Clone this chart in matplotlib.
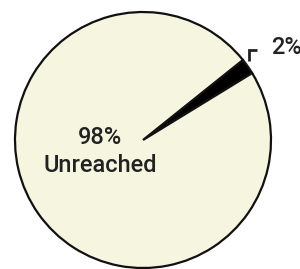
import matplotlib.pyplot as plt

# data
labels = ["Reached", "Unreached"]
shares = [2, 98]
colors = ["#000000", "#f5f5e0"]

plt.rcParams['font.family'] = ['Roboto', 'DejaVu Sans']

fig = plt.figure(figsize=(3.0, 2.69), dpi=100)
ax = fig.add_axes([0, 0, 1, 1])

cx, cy, r = 143, 140, 128
# y axis is inverted below, so clockwise in data reads counterclockwise on screen
wedges, _ = ax.pie(shares, colors=colors, startangle=-31.5, counterclock=False,
                   center=(cx, cy), radius=r, frame=True,
                   wedgeprops=dict(edgecolor='#111111', linewidth=1.6))
ax.set_xlim(0, 300)
ax.set_ylim(269, 0)
ax.set_aspect('equal')
ax.axis('off')

txt = dict(fontsize=17, color='#222222', fontweight='medium')
ax.text(100, 138, "{}%".format(shares[1]), ha='center', va='center', **txt)
ax.text(100, 165, labels[1], ha='center', va='center', **txt)

# small leader corner for the tiny slice
ax.plot([249.2, 249.2, 257], [61, 49.6, 49.6], color='#222222', lw=2.0,
        solid_capstyle='butt', solid_joinstyle='miter')
ax.text(271, 47, "{}%".format(shares[0]), ha='left', va='center', **txt)

fig.savefig("out.png", dpi=100)
